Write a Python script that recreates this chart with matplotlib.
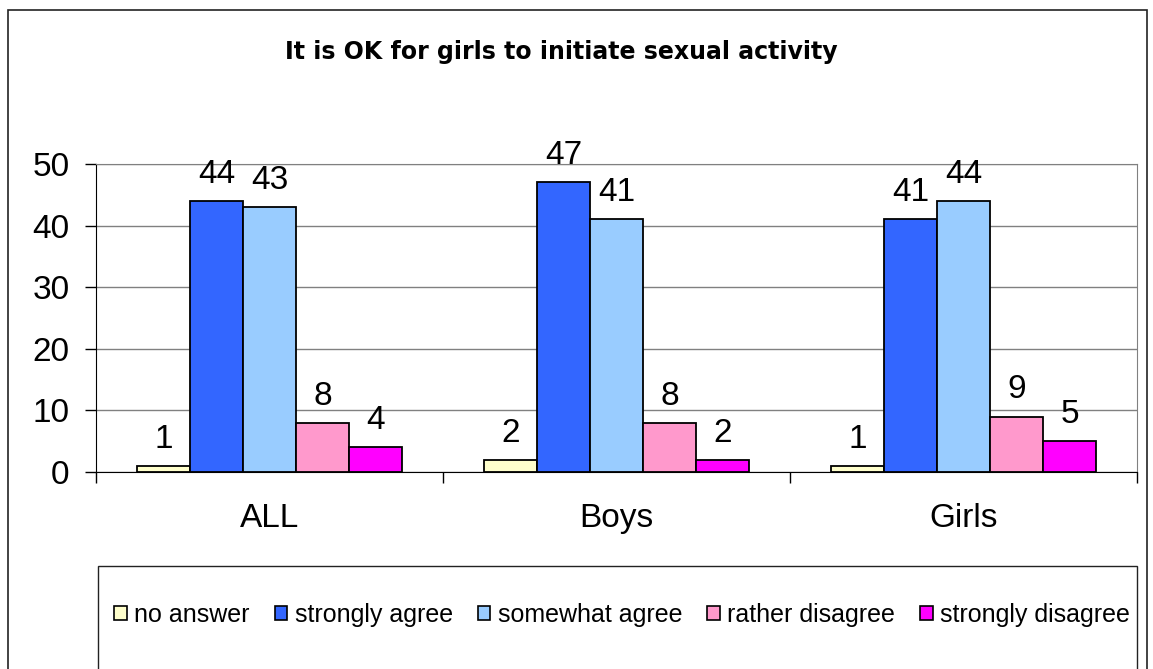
import numpy as np
import matplotlib.pyplot as plt
from matplotlib.patches import Rectangle, Patch

plt.rcParams['font.family'] = ['Liberation Sans', 'DejaVu Sans']

# Survey answers by group (percent)
groups = ["ALL", "Boys", "Girls"]
answers = ["no answer", "strongly agree", "somewhat agree",
           "rather disagree", "strongly disagree"]
no_answer = [1, 2, 1]
strongly_agree = [44, 47, 41]
somewhat_agree = [43, 41, 44]
rather_disagree = [8, 8, 9]
strongly_disagree = [4, 2, 5]
series = [no_answer, strongly_agree, somewhat_agree, rather_disagree, strongly_disagree]
colors = ["#FFFFCC", "#3366FF", "#99CCFF", "#FF99CC", "#FF00FF"]

W, H = 1153, 669
fig = plt.figure(figsize=(W / 100, H / 100), dpi=100)
ax = fig.add_axes([96 / W, 1 - 472 / H, (1137 - 96) / W, (472 - 164) / H])

# outer chart frame
fig.patches.append(Rectangle((8 / W, -0.05), (1147 - 8) / W, 1.05 - 10 / H,
                             transform=fig.transFigure, fill=False,
                             edgecolor="#222222", linewidth=1.2))

x = np.arange(len(groups))
bw = 0.153
for j, (vals, col) in enumerate(zip(series, colors)):
    pos = x + (j - 2) * bw
    ax.bar(pos, vals, width=bw, color=col, edgecolor="black", linewidth=1.3, zorder=3)
    for px, v in zip(pos, vals):
        ax.annotate(str(v), (px, v), xytext=(0, 8), textcoords="offset points",
                    ha="center", va="bottom", fontsize=24)

ax.set_xlim(-0.5, 2.5)
ax.set_ylim(0, 50)
ax.set_yticks(range(0, 51, 10))
ax.yaxis.grid(True, color="#808080", linewidth=1)
ax.set_axisbelow(True)
ax.set_xticks(x)
ax.set_xticklabels(groups, fontsize=24)
ax.set_xticks([-0.5, 0.5, 1.5, 2.5], minor=True)
ax.tick_params(axis="x", which="major", length=0, pad=22)
ax.tick_params(axis="x", which="minor", length=8, width=1, direction="out")
ax.tick_params(axis="y", length=8, width=1, direction="out", labelsize=24, pad=11)
for s in ["top", "right"]:
    ax.spines[s].set_color("#808080")
for s in ["left", "bottom"]:
    ax.spines[s].set_color("black")

fig.text(561 / W, 1 - 52 / H, "It is OK for girls to initiate sexual activity",
         ha="center", va="center", fontsize=17, fontweight="bold",
         family="DejaVu Sans")

# legend box
fig.patches.append(Rectangle((98 / W, -0.05), (1137 - 98) / W, 0.05 + (669 - 566) / H,
                             transform=fig.transFigure, fill=False,
                             edgecolor="#222222", linewidth=1))
handles = [Patch(facecolor=c, edgecolor="black", linewidth=1.2) for c in colors]
fig.legend(handles, answers, loc="center", bbox_to_anchor=(622 / W, 1 - 615 / H),
           ncol=5, frameon=False, fontsize=18, handlelength=0.5, handleheight=0.5,
           handletextpad=0.3, columnspacing=1.0)

fig.savefig("out.png", dpi=100)
